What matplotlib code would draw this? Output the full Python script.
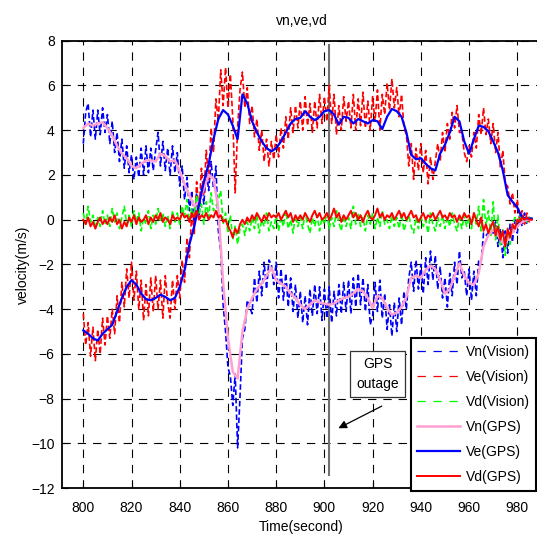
import numpy as np
import matplotlib
matplotlib.use("Agg")
import matplotlib.pyplot as plt

plt.rcParams['font.family'] = ['Liberation Sans', 'DejaVu Sans']
plt.rcParams['font.size'] = 10
plt.rcParams['lines.scale_dashes'] = False

# vision samples, one per second
t_vision = np.arange(800, 987)
vn_vision = [
    3.4, 4.8, 5.2, 3.7, 4.9, 3.6, 4.9, 3.8, 5.0, 3.9,
    4.7, 3.4, 4.4, 3.0, 3.9, 2.6, 3.6, 2.3, 3.3, 2.1,
    2.9, 1.8, 2.8, 1.9, 3.2, 2.0, 3.3, 2.1, 3.2, 2.2,
    3.1, 3.9, 2.4, 3.5, 2.2, 3.2, 2.0, 3.3, 2.1, 3.0,
    1.5, 2.4, 0.9, 1.9, 0.4, 1.3, -0.4, 1.2, 0.1, 1.5,
    0.7, 2.2, 1.3, 2.6, 1.4, 2.4, -0.5, -1.4, -3.8, -5.0,
    -6.6, -7.0, -8.3, -6.9, -10.2, -7.9, -5.3, -4.9, -3.6, -3.9,
    -4.2, -2.6, -3.7, -2.3, -3.4, -1.9, -3.1, -1.8, -2.0, -2.9,
    -1.9, -3.5, -2.2, -3.6, -2.4, -3.9, -2.6, -4.1, -2.9, -4.4,
    -3.2, -4.6, -3.4, -4.7, -3.1, -4.3, -2.9, -4.2, -3.0, -4.5,
    -3.1, -4.4, -3.0, -4.6, -3.2, -4.3, -2.9, -4.2, -2.8, -4.1,
    -2.7, -4.2, -2.6, -3.9, -2.4, -3.8, -2.6, -4.1, -2.9, -4.7,
    -4.3, -2.8, -4.1, -2.7, -4.4, -3.3, -4.9, -3.8, -5.2, -3.7,
    -5.0, -3.5, -4.7, -3.2, -4.0, -2.6, -1.9, -3.2, -1.8, -3.1,
    -2.0, -3.3, -1.7, -2.9, -1.4, -2.7, -1.6, -3.1, -2.1, -3.5,
    -2.6, -3.9, -2.4, -3.4, -1.9, -2.9, -1.4, -2.6, -2.3, -3.4,
    -2.2, -3.6, -2.3, -3.4, -1.8, -1.9, -0.6, -0.7, -0.6, -0.5,
    -0.6, -0.1, -1.2, -0.4, -1.7, -0.5, -1.5, -0.2, -1.0, 0.0,
    -0.6, 0.2, -0.3, 0.3, -0.2, 0.1, 0.0]
ve_vision = [
    -4.2, -5.6, -4.6, -6.1, -4.8, -6.3, -4.9, -6.0, -4.4, -5.6,
    -4.3, -5.3, -4.0, -5.1, -3.4, -4.6, -2.8, -3.9, -2.2, -3.5,
    -1.9, -3.6, -2.3, -4.0, -2.7, -4.5, -2.9, -4.3, -2.6, -4.1,
    -2.5, -4.0, -2.7, -4.4, -2.5, -3.7, -4.4, -2.7, -4.0, -2.5,
    -3.5, -1.8, -2.8, -0.8, -1.7, 0.4, -0.7, 1.7, 0.3, 2.3,
    1.1, 3.1, 1.8, 4.1, 3.0, 5.4, 4.4, 6.7, 5.1, 6.8,
    5.0, 6.5, 4.5, 1.2, 4.1, 5.8, 6.6, 5.0, 5.9, 4.3,
    5.1, 3.7, 4.5, 3.1, 4.0, 2.6, 3.6, 2.4, 3.5, 2.7,
    3.8, 2.8, 4.1, 3.2, 4.6, 3.6, 5.0, 3.9, 5.1, 4.1,
    5.3, 4.0, 5.5, 4.2, 5.2, 3.9, 5.3, 4.1, 5.6, 4.3,
    5.5, 4.4, 6.0, 4.3, 5.6, 3.8, 5.1, 4.0, 5.5, 4.4,
    5.3, 4.1, 5.6, 4.0, 5.4, 4.2, 5.7, 4.1, 5.3, 4.0,
    5.5, 4.4, 5.8, 4.0, 5.6, 4.7, 6.1, 4.9, 6.3, 5.0,
    5.9, 4.6, 5.6, 4.1, 3.8, 2.4, 3.4, 1.8, 3.2, 2.2,
    3.4, 2.1, 3.1, 1.6, 2.8, 1.8, 2.6, 3.4, 2.6, 3.9,
    3.0, 4.3, 3.6, 4.8, 4.1, 5.1, 3.9, 3.9, 3.0, 2.6,
    3.3, 2.8, 3.9, 3.2, 4.7, 3.8, 5.0, 3.8, 4.5, 3.4,
    4.3, 3.0, 3.9, 2.3, 3.1, 1.6, 1.5, 0.7, 1.2, 0.3,
    0.9, 0.0, 0.4, -0.2, 0.3, -0.1, 0.1]
vd_vision = [
    0.3, -0.2, 0.6, -0.1, 0.2, -0.4, 0.1, -0.3, 0.4, -0.2,
    0.2, -0.3, 0.5, -0.1, 0.3, -0.4, 0.1, 0.6, -0.2, 0.2,
    -0.3, 0.4, -0.1, 0.3, -0.5, 0.1, -0.2, 0.4, -0.4, 0.2,
    -0.2, 0.5, -0.1, 0.3, -0.3, 0.2, -0.4, 0.4, -0.1, 0.3,
    -0.2, 0.6, 0.1, 0.9, -0.1, 0.5, 0.2, 1.1, 0.3, 0.7,
    -0.2, 0.8, 0.1, 1.2, 0.4, 0.6, 0.9, 1.3, -0.2, 0.3,
    -0.6, 0.2, -0.9, -0.3, -1.1, -0.4, -0.2, -0.7, -0.1, -0.5,
    0.1, -0.4, 0.2, -0.6, 0.0, -0.3, 0.3, -0.5, -0.1, -0.4,
    0.2, -0.5, 0.1, -0.3, 0.4, -0.4, 0.0, -0.6, 0.2, -0.3,
    0.1, -0.4, 0.3, -0.2, -0.6, 0.1, -0.3, 0.2, -0.5, 0.1,
    -0.2, 0.3, -0.4, 0.1, -0.3, 0.4, -0.1, -0.5, 0.2, -0.3,
    0.1, -0.4, 0.6, -0.2, 0.3, -0.3, 0.1, -0.5, 0.2, -0.2,
    0.3, -0.4, 0.1, -0.3, 0.4, -0.2, 0.0, -0.4, 0.2, -0.3,
    0.1, -0.4, 0.3, -0.5, -0.1, 0.2, -0.3, -0.6, 0.1, -0.4,
    0.2, -0.3, 0.0, -0.6, 0.3, -0.2, -0.5, 0.1, -0.3, 0.2,
    -0.4, 0.1, -0.3, 0.3, -0.2, -0.5, 0.1, -0.4, 0.2, -0.3,
    0.1, -0.4, 0.3, -0.2, 0.6, -0.5, 0.9, -0.3, 0.4, -0.7,
    0.8, -0.9, 0.2, -1.2, -0.4, -1.6, -0.6, -1.1, -0.2, 0.1,
    -0.1, 0.2, 0.0, 0.1, -0.1, 0.1, 0.0]

# GPS north / east, every 2 s
t_gps = np.arange(800, 987, 2)
vn_gps = [
    4.1, 4.3, 4.2, 4.3, 4.35, 4.1, 3.75, 3.3, 2.95, 2.75,
    2.4, 2.3, 2.5, 2.65, 2.65, 2.6, 2.95, 2.85, 2.6, 2.65,
    2.15, 1.6, 1.1, 0.6, 0.8, 1.4, 2.0, 1.85, 0.5, -2.8,
    -5.3, -6.8, -7.1, -5.0, -4.0, -3.5, -3.1, -2.85, -2.5, -2.15,
    -2.7, -2.85, -3.0, -3.3, -3.5, -3.8, -4.0, -3.8, -3.6, -3.7,
    -3.75, -3.8, -3.75, -3.6, -3.5, -3.45, -3.3, -3.1, -3.2, -3.5,
    -3.95, -3.4, -3.5, -3.95, -4.25, -4.15, -3.9, -3.45, -2.6, -2.5,
    -2.6, -2.25, -2.05, -2.2, -2.7, -3.3, -3.1, -2.5, -1.95, -2.5,
    -2.85, -2.9, -2.4, -1.2, -0.7, -0.45, -0.7, -1.05, -0.9, -0.55,
    -0.3, -0.1, 0.0, 0.0]
ve_gps = [
    -4.95, -5.1, -5.3, -5.4, -5.1, -4.9, -4.7, -4.1, -3.5, -3.0,
    -2.7, -2.9, -3.3, -3.55, -3.6, -3.5, -3.35, -3.45, -3.6, -3.5,
    -3.0, -2.25, -1.1, -0.3, 0.7, 1.7, 2.5, 3.6, 4.5, 4.9,
    4.7, 4.2, 3.6, 5.6, 5.2, 4.4, 3.9, 3.5, 3.2, 3.05,
    3.2, 3.5, 3.9, 4.3, 4.5, 4.55, 4.85, 4.6, 4.45, 4.6,
    4.85, 4.9, 4.7, 4.25, 4.6, 4.55, 4.3, 4.5, 4.4, 4.3,
    4.45, 4.4, 4.05, 4.6, 4.95, 4.85, 4.6, 3.9, 2.9, 2.7,
    2.75, 2.5, 2.3, 2.2, 2.95, 3.35, 3.9, 4.6, 4.4, 3.5,
    2.95, 3.6, 4.2, 4.15, 3.95, 3.5, 3.0, 2.2, 1.1, 0.8,
    0.55, 0.1, 0.05, 0.05]
# GPS down, every 1 s
vd_gps = [
    0.0, -0.2, 0.1, -0.3, -0.1, -0.4, -0.1, 0.1, -0.2, 0.0,
    -0.2, 0.1, -0.1, 0.2, -0.2, 0.0, -0.4, -0.1, -0.3, 0.1,
    -0.1, 0.2, -0.2, 0.1, -0.1, 0.0, 0.2, -0.2, 0.1, -0.1,
    0.2, 0.0, 0.3, -0.1, 0.1, 0.0, -0.2, 0.2, 0.0, 0.1,
    0.0, 0.3, 0.1, 0.2, -0.1, 0.3, 0.1, 0.4, 0.0, 0.2,
    0.1, 0.3, 0.0, 0.2, 0.1, 0.4, 0.1, 0.2, -0.1, 0.0,
    -0.3, -0.5, -0.8, -0.4, -0.6, -0.2, 0.0, -0.2, 0.1, -0.1,
    0.2, 0.0, 0.3, 0.1, -0.1, 0.2, 0.0, 0.3, 0.1, 0.2,
    0.1, 0.3, 0.0, 0.2, 0.4, 0.1, 0.3, -0.1, 0.2, 0.0,
    0.2, 0.0, 0.3, 0.1, -0.1, 0.2, 0.4, 0.1, 0.3, 0.0,
    0.1, 0.3, 0.0, 0.2, 0.5, 0.1, 0.3, -0.1, 0.2, 0.0,
    0.2, 0.4, 0.1, 0.3, 0.0, 0.2, -0.1, 0.2, 0.4, 0.1,
    0.0, 0.2, 0.5, 0.1, 0.3, 0.0, 0.2, 0.1, 0.3, 0.0,
    0.2, 0.4, 0.1, 0.3, 0.0, 0.2, 0.4, 0.1, 0.2, -0.1,
    0.1, 0.3, 0.0, 0.2, 0.1, 0.3, 0.0, 0.2, 0.4, 0.1,
    0.2, 0.0, 0.3, 0.1, 0.2, -0.1, 0.2, 0.0, 0.3, 0.1,
    0.2, -0.2, 0.3, 0.0, -0.3, 0.1, -0.5, -0.2, -0.6, -0.3,
    -0.1, -0.7, -0.3, -0.9, -0.5, -1.2, -0.4, -0.8, -0.2, -0.4,
    0.0, -0.1, 0.1, 0.0, 0.1, 0.0, 0.0]

outage_time = 902
outage_span = (-11.45, 7.85)
note_box = (922.2, -6.9)
note_arrow_tail = (923.8, -8.33)
note_arrow_head = (905.8, -9.32)

fig = plt.figure(figsize=(5.37, 5.36), dpi=100)
# right edge of the axes falls just outside the picture, as in the original
ax = fig.add_axes([61.6 / 537, 47.8 / 536, 479.8 / 537, 447.5 / 536])

dash = (0, (4, 2))
ax.plot(t_vision, vn_vision, color='#0000ff', lw=1.2, linestyle=dash, label='Vn(Vision)')
ax.plot(t_vision, ve_vision, color='#ff0000', lw=1.2, linestyle=dash, label='Ve(Vision)')
ax.plot(t_vision, vd_vision, color='#00ff00', lw=1.2, linestyle=dash, label='Vd(Vision)')
ax.plot(t_gps, vn_gps, color='#ffa0d0', lw=1.8, label='Vn(GPS)')
ax.plot(t_gps, ve_gps, color='#0000ff', lw=1.6, label='Ve(GPS)')
ax.plot(t_vision, vd_gps, color='#ff0000', lw=1.4, label='Vd(GPS)')

ax.vlines(outage_time, *outage_span, color='#707070', lw=1.5, zorder=1)

ax.set_xlim(791, 990)
ax.set_ylim(-12, 8)
ax.set_xticks(np.arange(800, 981, 20))
ax.set_yticks(np.arange(-12, 9, 2))
ax.grid(True, color='k', lw=0.8, linestyle=(0, (6, 5)))
ax.set_axisbelow(True)
ax.tick_params(direction='in', length=4, labelsize=10, pad=5)
ax.tick_params(axis='x', pad=9)
for s in ax.spines.values():
    s.set_linewidth(1.3)

ax.set_title('vn,ve,vd', fontsize=10, pad=11)
ax.set_xlabel('Time(second)', fontsize=10, labelpad=4)
ax.set_ylabel('velocity(m/s)', fontsize=10, labelpad=0.5)

ax.text(*note_box, 'GPS\noutage', ha='center', va='center', fontsize=10,
        linespacing=1.55,
        bbox=dict(boxstyle='square,pad=0.45', fc='white', ec='#333333', lw=0.9))
ax.annotate('', xy=note_arrow_head, xytext=note_arrow_tail,
            arrowprops=dict(arrowstyle='-|>', color='k', lw=0.9,
                            mutation_scale=12, shrinkA=0, shrinkB=0))

leg = ax.legend(loc='lower right', bbox_to_anchor=(536 / 537, 45.5 / 536),
                bbox_transform=fig.transFigure, borderaxespad=0,
                fancybox=False, framealpha=1, edgecolor='k', fontsize=10,
                handlelength=3.1, handletextpad=0.4, labelspacing=0.8,
                borderpad=0.45)
leg.get_frame().set_linewidth(1.5)
for h in leg.get_lines()[:3]:
    h.set_linestyle((0, (6, 5.5)))
    h.set_linewidth(0.9)

fig.savefig('out.png', dpi=100)
